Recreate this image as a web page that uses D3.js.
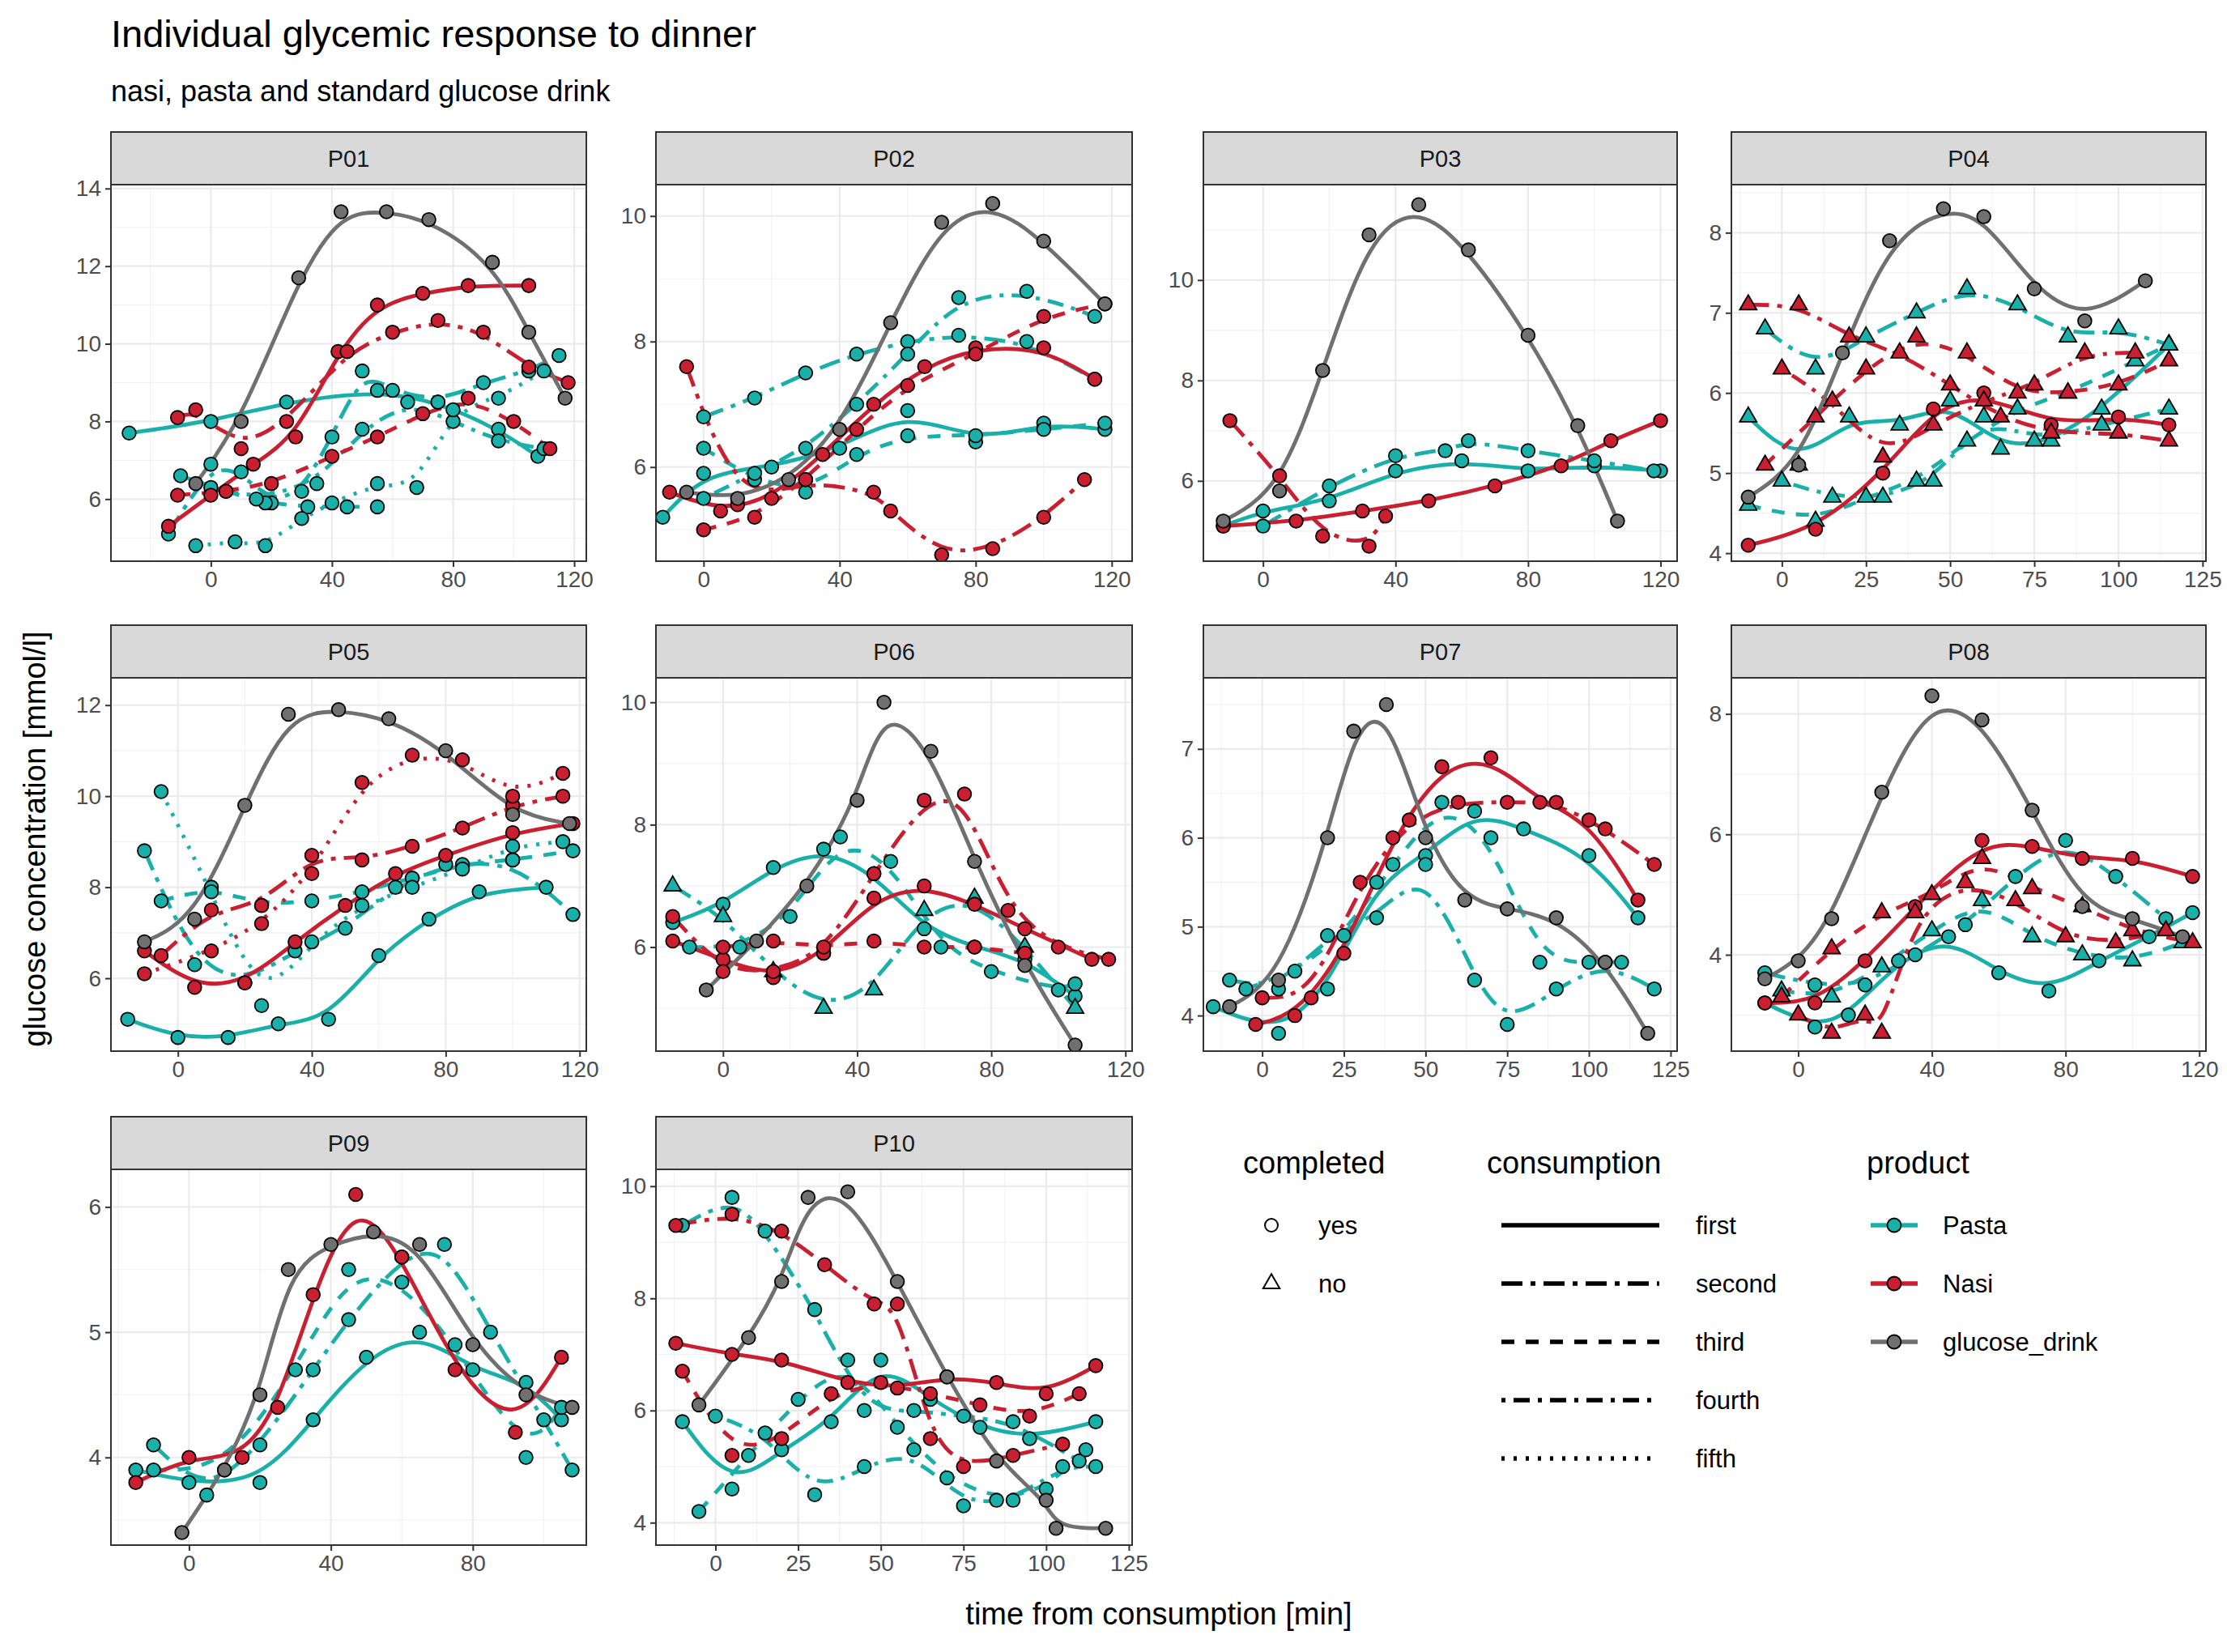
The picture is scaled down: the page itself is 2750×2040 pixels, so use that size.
<!DOCTYPE html>
<html>
<head>
<meta charset="utf-8">
<script src="https://cdn.jsdelivr.net/npm/d3@7"></script>
<style>
  body { margin: 0; background: #fff; }
  text { font-family: Arial, "Liberation Sans", sans-serif; }
</style>
</head>
<body>
<svg width="2750" height="2040"></svg>
<script>
const svg = d3.select("svg");

// series rows: [product, consumption, completed, [[time, glucose], ...]]
const panelIds = ["P01","P02","P03","P04","P05","P06","P07","P08","P09","P10"];
const products = ["Pasta","Nasi","glucose_drink"];
const consumptions = ["first","second","third","fourth","fifth"];
const completedLevels = ["yes","no"];

const p01 = [
  ["Pasta","first","yes",[[-27,7.7],[0,8.0],[25,8.5],[55,8.8],[75,8.5],[95,7.8],[108,7.1]]],
  ["Pasta","second","yes",[[-14,5.1],[0,6.9],[10,6.7],[20,5.9],[30,6.2],[40,7.6],[50,9.3],[60,8.8],[75,8.5],[90,9.0],[105,9.3],[115,9.7]]],
  ["Pasta","third","yes",[[-10,6.6],[5,6.2],[18,5.9],[32,5.8],[45,5.8],[55,5.8]]],
  ["Pasta","fourth","yes",[[0,6.3],[15,6.0],[35,6.4],[50,7.8],[65,8.5],[80,8.0],[95,7.5],[110,7.3]]],
  ["Pasta","fifth","yes",[[-5,4.8],[8,4.9],[18,4.8],[30,5.5],[40,5.9],[55,6.4],[68,6.3],[80,8.3],[95,8.6],[110,9.3]]],
  ["Nasi","first","yes",[[-14,5.3],[0,6.1],[14,6.9],[28,7.6],[42,9.8],[55,11.0],[70,11.3],[85,11.5],[105,11.5]]],
  ["Nasi","second","yes",[[-11,8.1],[-5,8.3],[10,7.3],[25,8.0],[45,9.8],[60,10.3],[75,10.6],[90,10.3],[105,9.4],[118,9.0]]],
  ["Nasi","third","yes",[[-11,6.1],[5,6.2],[20,6.4],[40,7.1],[55,7.6],[70,8.2],[85,8.6],[100,8.0],[112,7.3]]],
  ["glucose_drink","first","yes",[[-5,6.4],[10,8.0],[29,11.7],[43,13.4],[58,13.4],[72,13.2],[93,12.1],[105,10.3],[117,8.6]]]
];
const p02 = [
  ["Pasta","first","yes",[[-12,5.2],[0,5.9],[20,6.0],[40,6.3],[60,6.9],[80,6.4],[100,6.7],[118,6.6]]],
  ["Pasta","second","yes",[[0,6.8],[15,7.1],[30,7.5],[45,7.8],[60,8.0],[75,8.1],[95,8.0],[115,7.4]]],
  ["Pasta","third","yes",[[0,6.3],[15,5.8],[30,5.6],[45,6.2],[60,6.5],[80,6.5],[100,6.6],[118,6.7]]],
  ["Pasta","fourth","yes",[[0,5.5],[15,5.9],[30,6.3],[45,7.0],[60,7.8],[75,8.7],[95,8.8],[115,8.4]]],
  ["Nasi","first","yes",[[-10,5.6],[5,5.3],[20,5.5],[35,6.2],[50,7.0],[65,7.6],[80,7.9],[100,7.9],[115,7.4]]],
  ["Nasi","second","yes",[[-5,7.6],[10,5.4],[30,5.8],[50,5.6],[55,5.3],[70,4.6],[85,4.7],[100,5.2],[112,5.8]]],
  ["Nasi","third","yes",[[0,5.0],[15,5.2],[30,5.8],[45,6.6],[60,7.3],[80,7.8],[100,8.4],[118,8.6]]],
  ["glucose_drink","first","yes",[[-5,5.6],[10,5.5],[25,5.8],[40,6.6],[55,8.3],[70,9.9],[85,10.2],[100,9.6],[118,8.6]]]
];
const p03 = [
  ["Pasta","first","yes",[[-12,5.1],[0,5.4],[20,5.6],[40,6.2],[60,6.4],[80,6.2],[100,6.3],[120,6.2]]],
  ["Pasta","second","yes",[[0,5.1],[20,5.9],[40,6.5],[55,6.6],[62,6.8],[80,6.6],[100,6.4],[118,6.2]]],
  ["Nasi","first","yes",[[-12,5.1],[10,5.2],[30,5.4],[50,5.6],[70,5.9],[90,6.3],[105,6.8],[120,7.2]]],
  ["Nasi","second","yes",[[-10,7.2],[5,6.1],[18,4.9],[32,4.7],[37,5.3]]],
  ["glucose_drink","first","yes",[[-12,5.2],[5,5.8],[18,8.2],[32,10.9],[47,11.5],[62,10.6],[80,8.9],[95,7.1],[107,5.2]]]
];
const p04 = [
  ["Pasta","first","no",[[-10,5.7],[5,5.1],[20,5.7],[35,5.6],[50,5.9],[65,5.3],[80,5.4],[95,5.8],[115,6.6]]],
  ["Pasta","second","no",[[-5,6.8],[10,6.3],[25,6.7],[40,7.0],[55,7.3],[70,7.1],[85,6.7],[100,6.8],[115,6.6]]],
  ["Pasta","third","no",[[-10,4.6],[10,4.4],[25,4.7],[40,4.9],[55,5.4],[70,5.8],[85,6.0],[105,6.4],[115,6.6]]],
  ["Pasta","fourth","no",[[0,4.9],[15,4.7],[30,4.7],[45,4.9],[60,5.7],[75,5.4],[95,5.6],[115,5.8]]],
  ["Nasi","first","yes",[[-10,4.1],[10,4.3],[30,5.0],[45,5.8],[60,6.0],[80,5.6],[100,5.7],[115,5.6]]],
  ["Nasi","second","no",[[-10,7.1],[5,7.1],[20,6.7],[35,6.5],[50,6.1],[65,5.7],[80,5.5],[100,5.5],[115,5.4]]],
  ["Nasi","third","no",[[-5,5.1],[10,5.7],[25,6.3],[40,6.7],[55,6.5],[70,6.0],[85,6.0],[100,6.1],[115,6.4]]],
  ["Nasi","fourth","no",[[0,6.3],[15,5.9],[30,5.2],[45,5.6],[60,5.9],[75,6.1],[90,6.5],[105,6.5]]],
  ["glucose_drink","first","yes",[[-10,4.7],[5,5.1],[18,6.5],[32,7.9],[48,8.3],[60,8.2],[75,7.3],[90,6.9],[108,7.4]]]
];
const p05 = [
  ["Pasta","first","yes",[[-15,5.1],[0,4.7],[15,4.7],[30,5.0],[45,5.1],[60,6.5],[75,7.3],[90,7.9],[110,8.0]]],
  ["Pasta","second","yes",[[-10,8.8],[5,6.3],[20,5.9],[35,6.6],[50,7.1],[65,8.0],[80,8.5],[100,8.6],[118,7.4]]],
  ["Pasta","third","yes",[[-5,7.7],[10,8.0],[25,7.6],[40,7.7],[55,7.9],[70,8.2],[85,8.5],[100,8.6],[118,8.8]]],
  ["Pasta","fifth","yes",[[-5,10.1],[10,7.9],[25,5.4],[40,6.8],[55,7.6],[70,8.0],[85,8.4],[100,8.9],[115,9.0]]],
  ["Nasi","first","yes",[[-10,6.6],[5,5.8],[20,5.9],[35,6.8],[50,7.6],[65,8.3],[80,8.7],[100,9.2],[118,9.4]]],
  ["Nasi","second","yes",[[-5,6.5],[10,7.5],[25,7.6],[40,8.7],[55,8.6],[70,8.9],[85,9.3],[100,9.8],[115,10.0]]],
  ["Nasi","fifth","yes",[[-10,6.1],[10,6.6],[25,7.2],[40,8.3],[55,10.3],[70,10.9],[85,10.8],[100,10.0],[115,10.5]]],
  ["glucose_drink","first","yes",[[-10,6.8],[5,7.3],[20,9.8],[33,11.8],[48,11.9],[63,11.7],[80,11.0],[100,9.6],[117,9.4]]]
];
const p06 = [
  ["Pasta","first","yes",[[-15,6.4],[0,6.7],[15,7.3],[30,7.6],[45,7.2],[60,6.3],[75,6.0],[90,5.8],[105,5.2]]],
  ["Pasta","second","no",[[-15,7.0],[0,6.5],[15,5.6],[30,5.0],[45,5.3],[60,6.6],[75,6.8],[90,6.0],[105,5.0]]],
  ["Pasta","third","yes",[[-10,6.0],[5,6.0],[20,6.5],[35,7.8],[50,7.4],[65,6.0],[80,5.6],[100,5.3],[105,5.4]]],
  ["Nasi","first","yes",[[-15,6.1],[0,5.8],[15,5.5],[30,5.9],[45,6.8],[60,7.0],[75,6.7],[90,6.3],[110,5.8]]],
  ["Nasi","second","yes",[[-15,6.5],[0,5.6],[15,5.6],[30,5.9],[45,7.2],[60,8.4],[72,8.5],[85,6.6],[100,6.0],[115,5.8]]],
  ["Nasi","third","yes",[[0,6.0],[15,6.1],[30,6.0],[45,6.1],[60,6.0],[75,6.0],[90,5.9]]],
  ["glucose_drink","first","yes",[[-5,5.3],[10,6.1],[25,7.0],[40,8.4],[48,10.0],[62,9.2],[75,7.4],[90,5.7],[105,4.4]]]
];
const p07 = [
  ["Pasta","first","yes",[[-15,4.1],[5,3.8],[20,4.3],[35,5.5],[50,5.8],[65,6.3],[80,6.1],[100,5.8],[115,5.1]]],
  ["Pasta","second","yes",[[-10,4.4],[5,4.3],[20,4.9],[35,5.1],[50,5.7],[65,4.4],[75,3.9],[90,4.3],[105,4.6],[120,4.3]]],
  ["Pasta","third","yes",[[-5,4.3],[10,4.5],[25,4.9],[40,5.7],[55,6.4],[70,6.0],[85,4.6],[100,4.6],[110,4.6]]],
  ["Nasi","first","yes",[[-2,3.9],[10,4.0],[25,4.7],[40,6.0],[55,6.8],[70,6.9],[85,6.4],[100,6.2],[115,5.3]]],
  ["Nasi","second","yes",[[0,4.2],[15,4.2],[30,5.5],[45,6.2],[60,6.4],[75,6.4],[90,6.4],[105,6.1],[120,5.7]]],
  ["glucose_drink","first","yes",[[-10,4.1],[5,4.4],[20,6.0],[28,7.2],[38,7.5],[50,6.0],[62,5.3],[75,5.2],[90,5.1],[105,4.6],[118,3.8]]]
];
const p08 = [
  ["Pasta","first","yes",[[-10,3.2],[5,2.8],[15,3.0],[30,3.9],[45,4.3],[60,3.7],[75,3.4],[90,3.9],[105,4.3],[118,4.7]]],
  ["Pasta","second","yes",[[-10,3.7],[5,3.5],[20,3.5],[35,4.0],[50,4.5],[65,5.3],[80,5.9],[95,5.3],[110,4.6]]],
  ["Pasta","third","no",[[-5,3.4],[10,3.3],[25,3.8],[40,4.4],[55,4.9],[70,4.3],[85,4.0],[100,3.9],[115,4.2]]],
  ["Nasi","first","yes",[[-10,3.2],[5,3.2],[20,3.9],[35,4.8],[55,5.9],[70,5.8],[85,5.6],[100,5.6],[118,5.3]]],
  ["Nasi","second","no",[[0,3.0],[10,2.7],[20,3.0],[25,2.7],[35,4.7],[50,5.2],[65,4.9],[80,4.3],[95,4.2],[110,4.4]]],
  ["Nasi","third","no",[[-5,3.3],[10,4.1],[25,4.7],[40,5.0],[55,5.6],[70,5.1],[85,4.8],[100,4.4],[118,4.2]]],
  ["glucose_drink","first","yes",[[-10,3.6],[0,3.9],[10,4.6],[25,6.7],[40,8.3],[55,7.9],[70,6.4],[85,4.8],[100,4.6],[115,4.3]]]
];
const p09 = [
  ["Pasta","first","yes",[[-15,3.9],[0,3.8],[20,3.8],[35,4.3],[50,4.8],[65,5.0],[80,4.7],[95,4.6],[105,4.3]]],
  ["Pasta","second","yes",[[-10,4.1],[5,3.7],[20,4.1],[35,4.7],[45,5.1],[60,5.6],[72,5.7],[85,5.0],[100,4.3],[108,3.9]]],
  ["Pasta","third","yes",[[-10,3.9],[10,3.9],[30,4.7],[45,5.5],[60,5.4],[75,4.9],[95,4.0],[105,4.4]]],
  ["Nasi","first","yes",[[-15,3.8],[0,4.0],[15,4.0],[25,4.4],[35,5.3],[47,6.1],[60,5.6],[75,4.7],[92,4.2],[105,4.8]]],
  ["glucose_drink","first","yes",[[-2,3.4],[10,3.9],[20,4.5],[28,5.5],[40,5.7],[52,5.8],[65,5.7],[80,4.9],[95,4.5],[108,4.4]]]
];
const p10 = [
  ["Pasta","first","yes",[[-10,5.8],[5,4.6],[20,5.3],[35,5.8],[50,6.9],[65,6.2],[80,5.7],[95,5.5],[115,5.8]]],
  ["Pasta","second","yes",[[-10,9.3],[5,9.8],[15,9.2],[30,7.8],[45,6.0],[60,6.0],[75,5.9],[90,5.8],[110,5.1]]],
  ["Pasta","third","yes",[[-5,4.2],[10,5.2],[25,6.2],[40,6.9],[55,5.7],[70,4.8],[85,4.4],[100,4.6],[112,5.3]]],
  ["Pasta","fourth","yes",[[0,5.9],[15,5.6],[30,4.5],[45,5.0],[60,5.3],[75,4.3],[90,4.4],[105,5.0],[115,5.0]]],
  ["Nasi","first","yes",[[-12,7.2],[5,7.0],[20,6.9],[40,6.5],[55,6.4],[70,6.6],[85,6.5],[100,6.3],[115,6.8]]],
  ["Nasi","second","yes",[[-12,9.3],[5,9.5],[20,9.2],[33,8.6],[48,7.9],[55,7.9],[65,5.5],[75,5.0],[90,5.2],[105,5.4]]],
  ["Nasi","third","yes",[[-10,6.7],[5,5.2],[20,5.5],[35,6.3],[50,6.5],[65,6.3],[80,6.1],[95,5.9],[110,6.3]]],
  ["glucose_drink","first","yes",[[-5,6.1],[10,7.3],[20,8.3],[28,9.8],[40,9.9],[55,8.3],[70,6.6],[85,5.1],[100,4.4],[103,3.9],[118,3.9]]]
];
const panelSeries = [p01,p02,p03,p04,p05,p06,p07,p08,p09,p10];

// axis limits and tick labels per panel
const xLimits = [[-33,124],[-14,126],[-18,125],[-15,126],[-20,122],[-20,122],[-18,127],[-20,122],[-22,112],[-18,126]];
const yLimits = [[4.4,14.1],[4.5,10.5],[4.4,11.9],[3.9,8.6],[4.4,12.6],[4.3,10.4],[3.6,7.8],[2.4,8.6],[3.3,6.3],[3.6,10.3]];
const xTicks = [[0,40,80,120],[0,40,80,120],[0,40,80,120],[0,25,50,75,100,125],[0,40,80,120],
                [0,40,80,120],[0,25,50,75,100,125],[0,40,80,120],[0,40,80],[0,25,50,75,100,125]];
const yTicks = [[6,8,10,12,14],[6,8,10],[6,8,10],[4,5,6,7,8],[6,8,10,12],
                [6,8,10],[4,5,6,7],[4,6,8],[4,5,6],[4,6,8,10]];

const productColors = ["#1AB0AA","#C91F30","#707070"];
const dashes = [null,"26,10,6,10","16,14","5,10,20,10","4,11"];

const color = d3.scaleOrdinal(products, productColors);
const dash = d3.scaleOrdinal(consumptions, dashes);

// layout
const colX = [[137,724],[810,1398],[1486,2071],[2138,2724]];
const rowY = [[163,693],[772,1298],[1379,1908]];
const stripH = 65;

svg.append("text").attr("x",137).attr("y",58).attr("font-size",47).attr("fill","#000")
  .text("Individual glycemic response to dinner");
svg.append("text").attr("x",137).attr("y",125).attr("font-size",36).attr("fill","#000")
  .text("nasi, pasta and standard glucose drink");

const line = d3.line().curve(d3.curveBasis);

panelIds.forEach((id, i) => {
  const [x0, x1] = colX[i % 4];
  const [s0, y1] = rowY[Math.floor(i / 4)];
  const y0 = s0 + stripH;
  const series = panelSeries[i];
  const x = d3.scaleLinear().domain(xLimits[i]).range([x0, x1]);
  const y = d3.scaleLinear().domain(yLimits[i]).range([y1, y0]);
  const g = svg.append("g");

  // strip
  g.append("rect").attr("x",x0).attr("y",s0).attr("width",x1-x0).attr("height",stripH)
    .attr("fill","#D9D9D9").attr("stroke","#333").attr("stroke-width",2);
  g.append("text").attr("x",(x0+x1)/2).attr("y",s0+stripH/2+10).attr("text-anchor","middle")
    .attr("font-size",29).attr("fill","#1a1a1a").text(id);

  // grid
  const xt = xTicks[i], yt = yTicks[i];
  const xMinor = d3.range(xt.length + 1).map(k => xt[0] + (k - 0.5) * (xt[1] - xt[0]));
  const yMinor = d3.range(yt.length + 1).map(k => yt[0] + (k - 0.5) * (yt[1] - yt[0]));
  const inX = v => v >= x.domain()[0] && v <= x.domain()[1];
  const inY = v => v >= y.domain()[0] && v <= y.domain()[1];
  g.selectAll(".xm").data(xMinor.filter(inX)).enter().append("line")
    .attr("x1",d=>x(d)).attr("x2",d=>x(d)).attr("y1",y0).attr("y2",y1).attr("stroke","#F2F2F2").attr("stroke-width",1.2);
  g.selectAll(".ym").data(yMinor.filter(inY)).enter().append("line")
    .attr("y1",d=>y(d)).attr("y2",d=>y(d)).attr("x1",x0).attr("x2",x1).attr("stroke","#F2F2F2").attr("stroke-width",1.2);
  g.selectAll(".xg").data(xt.filter(inX)).enter().append("line")
    .attr("x1",d=>x(d)).attr("x2",d=>x(d)).attr("y1",y0).attr("y2",y1).attr("stroke","#EBEBEB").attr("stroke-width",2.2);
  g.selectAll(".yg").data(yt.filter(inY)).enter().append("line")
    .attr("y1",d=>y(d)).attr("y2",d=>y(d)).attr("x1",x0).attr("x2",x1).attr("stroke","#EBEBEB").attr("stroke-width",2.2);

  // axes
  const xa = g.append("g").attr("transform",`translate(0,${y1})`)
    .call(d3.axisBottom(x).tickValues(xt.filter(inX)).tickFormat(d3.format("d")).tickSize(7).tickPadding(5));
  const ya = g.append("g").attr("transform",`translate(${x0},0)`)
    .call(d3.axisLeft(y).tickValues(yt.filter(inY)).tickFormat(d3.format("d")).tickSize(7).tickPadding(5));
  [xa, ya].forEach(a => {
    a.select(".domain").remove();
    a.selectAll("line").attr("stroke","#333").attr("stroke-width",2);
    a.selectAll("text").attr("font-size",28).attr("fill","#4D4D4D").attr("font-family","Arial, Liberation Sans, sans-serif");
  });

  // lines
  const clipId = "clip" + i;
  svg.append("clipPath").attr("id",clipId).append("rect")
    .attr("x",x0).attr("y",y0).attr("width",x1-x0).attr("height",y1-y0);
  const plot = g.append("g").attr("clip-path",`url(#${clipId})`);
  plot.selectAll("path.s").data(series).enter().append("path")
    .attr("d", s => line(s[3].map(p => [x(p[0]), y(p[1])])))
    .attr("fill","none").attr("stroke", s => color(s[0])).attr("stroke-width",4.8)
    .attr("stroke-dasharray", s => dash(s[1]));

  // points
  const pts = series.flatMap(s => s[3].map(p => ({prod: s[0], comp: s[2], t: p[0], v: p[1]})));
  plot.selectAll("path.p").data(pts).enter().append("path")
    .attr("transform", d => `translate(${x(d.t)},${y(d.v)})`)
    .attr("d", d => d.comp === "yes" ? d3.symbol(d3.symbolCircle, 220)() : d3.symbol(d3.symbolTriangle, 190)())
    .attr("fill", d => color(d.prod)).attr("stroke","#000").attr("stroke-width",1.8);

  // border
  g.append("rect").attr("x",x0).attr("y",y0).attr("width",x1-x0).attr("height",y1-y0)
    .attr("fill","none").attr("stroke","#333").attr("stroke-width",2);
});

// axis titles
svg.append("text").attr("x",1431).attr("y",2006).attr("text-anchor","middle").attr("font-size",38)
  .text("time from consumption [min]");
svg.append("text").attr("transform","translate(56,1036) rotate(-90)").attr("text-anchor","middle").attr("font-size",38)
  .text("glucose concentration [mmol/l]");

// legends
const lg = svg.append("g");
const rowGap = 72, firstRow = 1513;
lg.append("text").attr("x",1535).attr("y",1449).attr("font-size",38).text("completed");
completedLevels.forEach((c, k) => {
  const cy = firstRow + k * rowGap;
  lg.append("path").attr("transform",`translate(1570,${cy})`)
    .attr("d", c === "yes" ? d3.symbol(d3.symbolCircle, 200)() : d3.symbol(d3.symbolTriangle, 180)())
    .attr("fill","none").attr("stroke","#000").attr("stroke-width",2);
  lg.append("text").attr("x",1628).attr("y",cy+11).attr("font-size",31).text(c);
});
lg.append("text").attr("x",1836).attr("y",1449).attr("font-size",38).text("consumption");
consumptions.forEach((c, k) => {
  const cy = firstRow + k * rowGap;
  lg.append("line").attr("x1",1854).attr("x2",2049).attr("y1",cy).attr("y2",cy)
    .attr("stroke","#000").attr("stroke-width",5.5).attr("stroke-dasharray",dash(c));
  lg.append("text").attr("x",2094).attr("y",cy+11).attr("font-size",31).text(c);
});
lg.append("text").attr("x",2305).attr("y",1449).attr("font-size",38).text("product");
products.forEach((p, k) => {
  const cy = firstRow + k * rowGap;
  lg.append("line").attr("x1",2310).attr("x2",2368).attr("y1",cy).attr("y2",cy)
    .attr("stroke",color(p)).attr("stroke-width",5.5);
  lg.append("circle").attr("cx",2339).attr("cy",cy).attr("r",8.5)
    .attr("fill",color(p)).attr("stroke","#000").attr("stroke-width",1.8);
  lg.append("text").attr("x",2399).attr("y",cy+11).attr("font-size",31).text(p);
});
</script>
</body>
</html>
